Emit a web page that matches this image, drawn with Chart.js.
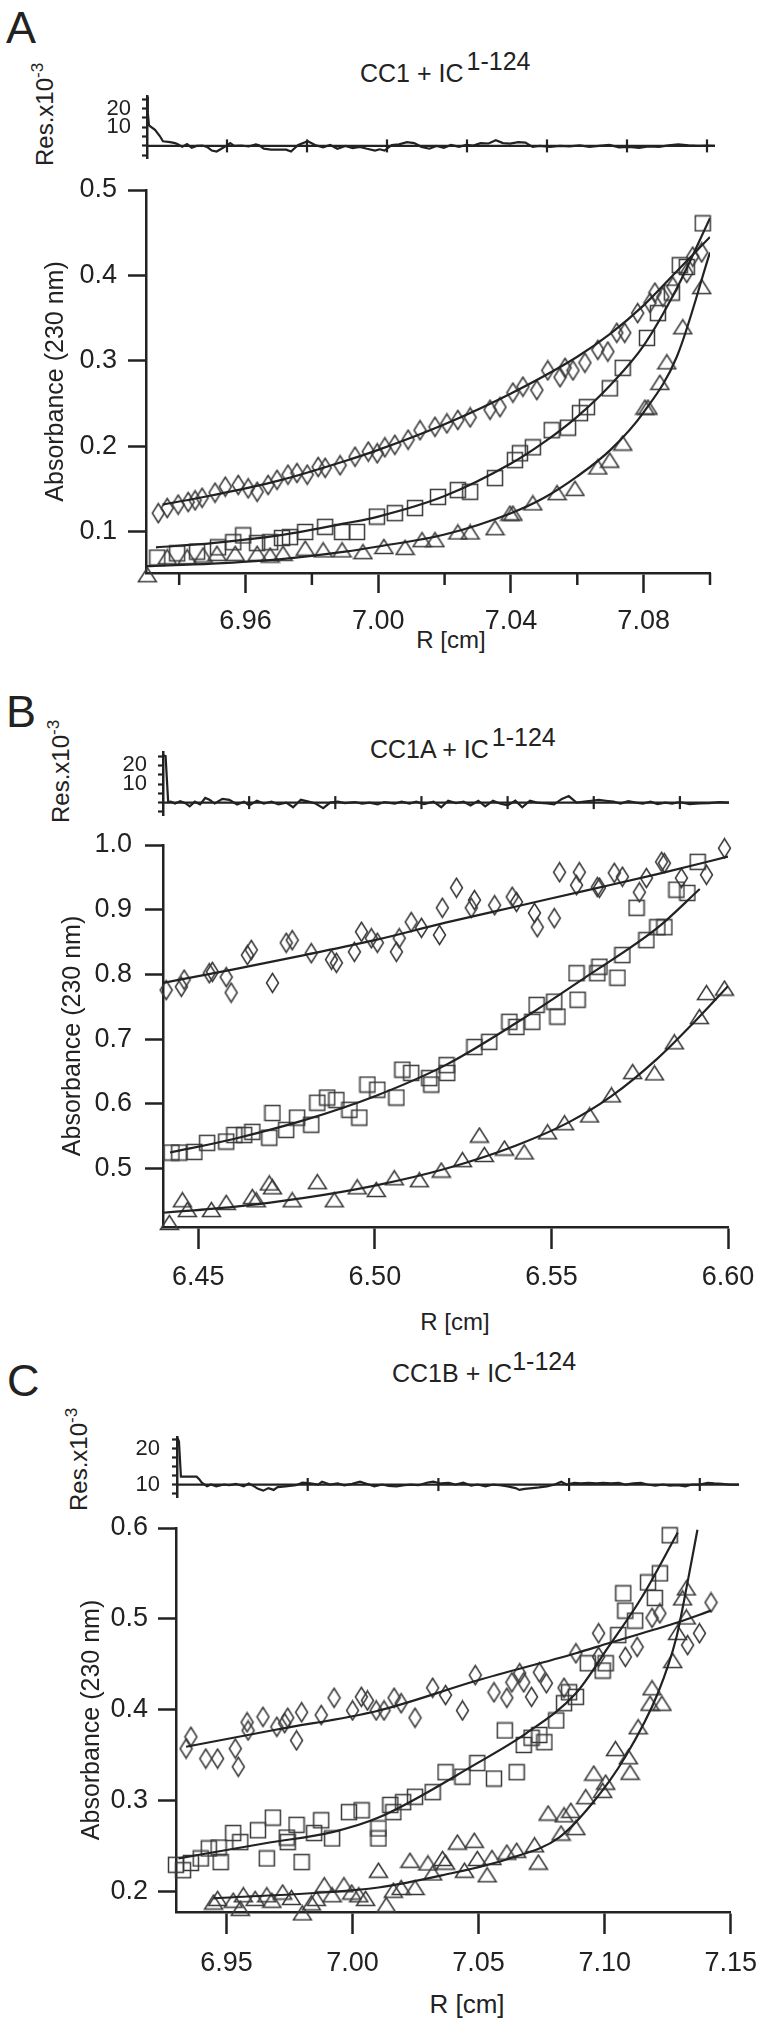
<!DOCTYPE html>
<html>
<head>
<meta charset="utf-8">
<script src="https://cdn.jsdelivr.net/npm/chart.js@4.4.1/dist/chart.umd.min.js"></script>
<style>
body { margin: 0; background: #fff; }
#fig { position: relative; width: 770px; height: 2020px; overflow: hidden; color: #222;
       font-family: "Liberation Sans", Arial, sans-serif; }
canvas { position: absolute; left: 0; }
.t { position: absolute; white-space: nowrap; line-height: 1; }
.rot { transform-origin: 0 0; transform: rotate(-90deg); }
.sup { position: relative; }
.c { transform: translateX(-50%); }
</style>
</head>
<body>
<div id="fig">
  <div class="t" style="left:6px;top:5px;font-size:45px">A</div>
  <div class="t" style="left:360px;top:61px;font-size:25px">CC1 + IC<span class="sup" style="top:-12px;margin-left:3px">1-124</span></div>
  <div class="t rot" style="left:33px;top:166px;font-size:24px">Res.x10<span class="sup" style="top:-10px;font-size:17px">-3</span></div>
  <div class="t c" style="left:451px;top:628px;font-size:24px">R [cm]</div>

  <div class="t" style="left:6px;top:689px;font-size:45px">B</div>
  <div class="t" style="left:370px;top:737px;font-size:25px">CC1A + IC<span class="sup" style="top:-12px;margin-left:3px">1-124</span></div>
  <div class="t rot" style="left:49px;top:823px;font-size:24px">Res.x10<span class="sup" style="top:-10px;font-size:17px">-3</span></div>
  <div class="t c" style="left:455px;top:1310px;font-size:24px">R [cm]</div>

  <div class="t" style="left:7px;top:1358px;font-size:45px">C</div>
  <div class="t" style="left:392px;top:1361px;font-size:25px">CC1B + IC<span class="sup" style="top:-12px">1-124</span></div>
  <div class="t rot" style="left:67px;top:1511px;font-size:24px">Res.x10<span class="sup" style="top:-10px;font-size:17px">-3</span></div>
  <div class="t c" style="left:467px;top:1991px;font-size:26px">R [cm]</div>

  <canvas id="resA" width="770" height="111" style="top:72px"></canvas>
  <canvas id="mainA" width="770" height="530" style="top:150px"></canvas>
  <canvas id="resB" width="770" height="112" style="top:728px"></canvas>
  <canvas id="mainB" width="770" height="520" style="top:800px"></canvas>
  <canvas id="resC" width="770" height="111" style="top:1412px"></canvas>
  <canvas id="mainC" width="770" height="510" style="top:1490px"></canvas>
</div>
<script>
// ---------- panel A : CC1 + IC(1-124) ----------
const A_xTicks = [6.96, 7.00, 7.04, 7.08];
const A_xMinor = [6.94, 6.98, 7.02, 7.06, 7.10];
const A_yTicks = [0.1, 0.2, 0.3, 0.4, 0.5];
const A_diamonds = [[6.9337,0.122],[6.9364,0.128],[6.9397,0.132],[6.9427,0.135],[6.9448,0.137],[6.9469,0.140],
  [6.9508,0.146],[6.9539,0.153],[6.9578,0.155],[6.9608,0.151],[6.9635,0.147],[6.9668,0.155],[6.9695,0.161],
  [6.9728,0.167],[6.9755,0.169],[6.9786,0.167],[6.9819,0.176],[6.984,0.175],[6.9885,0.178],[6.993,0.188],
  [6.997,0.194],[6.9997,0.192],[7.002,0.199],[7.005,0.202],[7.009,0.208],[7.0126,0.219],[7.0171,0.223],
  [7.0207,0.227],[7.024,0.231],[7.0277,0.234],[7.0337,0.243],[7.0367,0.246],[7.0406,0.263],[7.0436,0.270],
  [7.0478,0.266],[7.0511,0.289],[7.0548,0.281],[7.0563,0.292],[7.0587,0.289],[7.0623,0.298],[7.0662,0.313],
  [7.0692,0.311],[7.0719,0.333],[7.0743,0.333],[7.0782,0.356],[7.0819,0.368],[7.0834,0.380],[7.0858,0.375],
  [7.0888,0.387],[7.093,0.403],[7.0948,0.422],[7.0975,0.427]];
const A_squares = [[6.9334,0.070],[6.9394,0.075],[6.9454,0.077],[6.9517,0.082],[6.9563,0.088],[6.9593,0.096],
  [6.9635,0.087],[6.9674,0.088],[6.971,0.093],[6.9734,0.094],[6.978,0.100],[6.984,0.106],[6.9891,0.100],
  [6.9936,0.100],[6.9996,0.118],[7.005,0.122],[7.0111,0.128],[7.018,0.141],[7.024,0.149],[7.0277,0.147],
  [7.0352,0.163],[7.0412,0.184],[7.0427,0.192],[7.0466,0.199],[7.0523,0.219],[7.0572,0.222],[7.0608,0.239],
  [7.0629,0.246],[7.0698,0.268],[7.0737,0.292],[7.081,0.327],[7.0843,0.356],[7.0885,0.380],[7.0909,0.412],
  [7.093,0.410],[7.0978,0.461]];
const A_triangles = [[6.9304,0.050],[6.9364,0.071],[6.9424,0.071],[6.9472,0.073],[6.9514,0.075],[6.9569,0.075],
  [6.9635,0.075],[6.9674,0.073],[6.9713,0.075],[6.978,0.081],[6.9834,0.079],[6.9891,0.079],[6.9954,0.077],
  [7.0017,0.083],[7.0081,0.082],[7.0132,0.091],[7.0171,0.091],[7.024,0.100],[7.0277,0.100],[7.0352,0.105],
  [7.0397,0.122],[7.0406,0.122],[7.0466,0.134],[7.0539,0.146],[7.0593,0.151],[7.0662,0.176],[7.0698,0.184],
  [7.0737,0.204],[7.0804,0.246],[7.0813,0.246],[7.0849,0.275],[7.087,0.299],[7.0918,0.340],[7.0975,0.387]];
const A_fitDiamonds = [[6.935,0.132],[6.95,0.143],[6.97,0.160],[6.99,0.183],[7.00,0.196],[7.02,0.226],
  [7.04,0.262],[7.06,0.305],[7.07,0.332],[7.08,0.365],[7.09,0.405],[7.10,0.445]];
const A_fitSquares = [[6.933,0.082],[6.95,0.087],[6.97,0.096],[6.99,0.110],[7.00,0.118],[7.02,0.142],
  [7.04,0.180],[7.05,0.205],[7.06,0.235],[7.07,0.272],[7.08,0.318],[7.09,0.385],[7.10,0.467]];
const A_fitTriangles = [[6.93,0.060],[6.95,0.063],[6.97,0.068],[6.99,0.077],[7.00,0.083],[7.02,0.097],
  [7.04,0.122],[7.05,0.140],[7.06,0.165],[7.07,0.196],[7.08,0.240],[7.09,0.305],[7.10,0.427]];
const A_res = [[0,26.4],[0.1,18],[0.25,11],[1.0,8.6],[1.6,5.3],[2.0,2.5],[2.9,2],[3.5,1.5],[3.8,1.0],[4.4,-0.5],
  [5.0,1],[5.6,-1],[6.2,0],[6.9,0.2],[7.5,-0.5],[8.1,-2.5],[8.7,-3],[9.3,-1.5],[9.9,0],[10.4,1.5],[10.9,0],
  [11.8,0.2],[12.7,-0.3],[13.6,0.8],[14.0,0.3],[14.6,-1.5],[15.5,-2],[16.4,-2],[17.4,-2],[18.0,-3],[18.9,0.5],
  [20.1,2.5],[21.0,0.5],[22.0,-0.8],[22.9,0.5],[23.8,-1.5],[24.8,0],[25.7,-1.2],[26.6,-0.5],[27.5,-1.5],
  [28.5,-2.5],[29.1,-1.8],[29.7,-2.5],[30.6,0.5],[31.5,0.8],[32.5,2],[33.4,1.5],[34.3,-0.5],[35.3,-1.5],
  [36.2,0],[37.1,-1],[38.0,0.5],[39.0,-0.5],[39.9,0.5],[40.8,0.2],[41.7,1.5],[42.7,1.3],[43.6,3],[44.5,1.5],
  [45.4,1.2],[46.4,2],[47.3,1.8],[48.2,-0.5],[49.1,0],[50.4,-0.5],[51.6,0],[52.8,-0.3],[54.1,0.3],[55.3,-0.5],
  [56.5,0],[57.8,0.5],[59.0,-0.8],[60.3,-0.5],[61.5,-1],[62.7,-0.3],[64.0,-0.5],[65.2,0.3],[66.4,0.8],
  [67.7,0.3],[68.9,0],[70.1,0.2],[71.0,0]];
const A_resXTicks = [10, 20, 30, 40, 50, 60, 70];

// ---------- panel B : CC1A + IC(1-124) ----------
const B_xTicks = [6.45, 6.50, 6.55, 6.60];
const B_yTicks = [0.5, 0.6, 0.7, 0.8, 0.9, 1.0];
const B_diamonds = [[6.4409,0.776],[6.4452,0.781],[6.446,0.792],[6.4531,0.802],[6.454,0.804],[6.4579,0.796],
  [6.4593,0.772],[6.4639,0.830],[6.465,0.838],[6.471,0.787],[6.4749,0.849],[6.4766,0.853],[6.482,0.833],
  [6.4877,0.823],[6.4891,0.818],[6.4942,0.835],[6.4962,0.866],[6.499,0.856],[6.5007,0.849],[6.5061,0.835],
  [6.5069,0.856],[6.5103,0.881],[6.5132,0.872],[6.5183,0.861],[6.5191,0.903],[6.5231,0.934],[6.5273,0.903],
  [6.5282,0.915],[6.5339,0.907],[6.5389,0.920],[6.5401,0.912],[6.5452,0.895],[6.546,0.873],[6.5508,0.887],
  [6.5523,0.958],[6.5571,0.938],[6.5579,0.958],[6.563,0.935],[6.5636,0.934],[6.5678,0.957],[6.5701,0.951],
  [6.5749,0.927],[6.5769,0.949],[6.5812,0.974],[6.582,0.972],[6.5868,0.949],[6.5939,0.954],[6.599,0.995]];
const B_squares = [[6.4424,0.525],[6.4446,0.525],[6.4489,0.526],[6.4525,0.540],[6.4579,0.542],[6.4602,0.552],
  [6.463,0.552],[6.4653,0.557],[6.4701,0.548],[6.471,0.586],[6.4749,0.560],[6.478,0.579],[6.482,0.568],
  [6.4837,0.602],[6.4865,0.610],[6.4891,0.606],[6.4928,0.591],[6.4956,0.579],[6.4979,0.630],[6.5007,0.622],
  [6.5061,0.610],[6.5078,0.653],[6.5103,0.648],[6.5154,0.640],[6.516,0.630],[6.5203,0.660],[6.5205,0.648],
  [6.5282,0.688],[6.5324,0.696],[6.5381,0.727],[6.5401,0.719],[6.5446,0.727],[6.5458,0.753],[6.5508,0.758],
  [6.5517,0.735],[6.5574,0.761],[6.5571,0.802],[6.563,0.802],[6.5636,0.812],[6.5687,0.795],[6.5701,0.830],
  [6.5741,0.903],[6.5769,0.853],[6.58,0.873],[6.582,0.873],[6.5854,0.931],[6.5885,0.926],[6.5914,0.974]];
const B_triangles = [[6.4418,0.417],[6.4455,0.452],[6.4469,0.437],[6.4537,0.437],[6.4579,0.448],[6.4653,0.457],
  [6.4664,0.452],[6.4701,0.478],[6.471,0.472],[6.4766,0.452],[6.4837,0.480],[6.4885,0.452],[6.495,0.472],
  [6.5004,0.468],[6.5055,0.486],[6.5126,0.483],[6.5188,0.498],[6.5248,0.514],[6.5296,0.552],[6.531,0.522],
  [6.5367,0.532],[6.5423,0.526],[6.5489,0.557],[6.5537,0.571],[6.5608,0.583],[6.567,0.614],[6.573,0.650],
  [6.5792,0.648],[6.5848,0.696],[6.5919,0.735],[6.5939,0.772],[6.599,0.779]];
const B_fitDiamonds = [[6.44,0.787],[6.46,0.808],[6.48,0.830],[6.50,0.853],[6.52,0.880],[6.54,0.905],
  [6.56,0.930],[6.58,0.955],[6.60,0.982]];
const B_fitSquares = [[6.442,0.525],[6.46,0.546],[6.48,0.575],[6.50,0.612],[6.52,0.660],[6.54,0.725],
  [6.56,0.797],[6.58,0.872],[6.592,0.932]];
const B_fitTriangles = [[6.44,0.432],[6.46,0.441],[6.48,0.455],[6.50,0.474],[6.52,0.500],[6.54,0.536],
  [6.555,0.572],[6.567,0.612],[6.58,0.670],[6.59,0.724],[6.60,0.782]];
const B_res = [[0,25.5],[0.3,25],[0.6,0.3],[0.9,0.5],[1.4,-0.5],[2.0,0.8],[2.6,-0.3],[3.1,-2],[3.7,0.5],[4.3,-1],
  [4.9,2.5],[5.4,1.5],[6.0,-0.5],[6.9,2],[7.7,1.5],[8.6,-1],[9.4,0.5],[10.0,-1.5],[10.9,1],[11.7,-0.5],
  [12.6,0.5],[13.4,-1],[14.3,0],[15.1,-2.5],[16.0,1.5],[16.9,0.5],[17.7,-0.5],[18.6,-3],[19.4,0],[20.3,0.5],
  [21.1,-0.3],[22.3,0.3],[23.1,-0.5],[24.0,0],[24.9,-1],[25.7,0.3],[26.9,-0.5],[27.7,0.5],[28.6,-0.5],
  [29.4,0.5],[30.3,-0.8],[31.4,0.5],[32.3,-2.5],[33.1,1],[34.0,-0.3],[34.9,0.5],[35.7,-1.5],[36.6,1],
  [37.4,-2],[38.3,1],[39.1,-0.5],[40.0,-1.5],[40.9,1],[41.7,-2.5],[42.6,1],[43.4,0],[44.6,-0.5],[45.4,-1],
  [46.3,2],[47.1,3.5],[48.0,0],[48.9,0.5],[49.7,1],[50.6,1.5],[51.4,1],[52.3,0.5],[53.1,-0.5],[54.0,0.8],
  [54.9,0],[55.7,-0.5],[56.6,0.5],[57.4,-0.8],[58.3,0],[59.1,-0.5],[60.0,0.3],[61.1,-0.8],[62.3,-0.5],
  [63.4,-0.3],[64.6,0.3],[65.7,0]];
const B_resXTicks = [10, 20, 30, 40, 50, 60];

// ---------- panel C : CC1B + IC(1-124) ----------
const C_xTicks = [6.95, 7.00, 7.05, 7.10, 7.15];
const C_yTicks = [0.2, 0.3, 0.4, 0.5, 0.6];
const C_diamonds = [[6.934,0.357],[6.9359,0.370],[6.9418,0.346],[6.9465,0.346],[6.9535,0.357],[6.9547,0.337],
  [6.9582,0.386],[6.9586,0.377],[6.9645,0.392],[6.97,0.381],[6.9731,0.385],[6.9743,0.391],[6.9778,0.366],
  [6.9798,0.397],[6.9876,0.394],[6.9927,0.413],[7.0,0.399],[7.0035,0.414],[7.0059,0.410],[7.0094,0.399],
  [7.0125,0.399],[7.0165,0.413],[7.0193,0.407],[7.0248,0.391],[7.0318,0.424],[7.0369,0.416],[7.0436,0.399],
  [7.0487,0.438],[7.0561,0.419],[7.0612,0.413],[7.0632,0.430],[7.0663,0.440],[7.0679,0.430],[7.071,0.414],
  [7.0741,0.441],[7.0769,0.429],[7.0839,0.424],[7.0886,0.462],[7.0976,0.484],[7.0976,0.458],[7.1082,0.458],
  [7.1129,0.469],[7.1188,0.501],[7.1219,0.506],[7.1329,0.471],[7.1376,0.484],[7.1422,0.518]];
const C_squares = [[6.93,0.229],[6.9328,0.223],[6.9359,0.231],[6.9398,0.236],[6.943,0.247],[6.9469,0.248],
  [6.9477,0.232],[6.9527,0.264],[6.9555,0.254],[6.9625,0.267],[6.966,0.236],[6.9684,0.281],[6.9739,0.259],
  [6.9743,0.254],[6.9778,0.273],[6.9798,0.232],[6.9848,0.264],[6.9876,0.278],[6.9919,0.258],[6.9986,0.287],
  [7.0036,0.289],[7.0103,0.258],[7.0103,0.269],[7.015,0.295],[7.0162,0.287],[7.0201,0.298],[7.0248,0.304],
  [7.0318,0.309],[7.0369,0.331],[7.0436,0.326],[7.0495,0.341],[7.0561,0.324],[7.0604,0.377],[7.0651,0.331],
  [7.0679,0.361],[7.071,0.369],[7.0741,0.372],[7.0761,0.364],[7.0808,0.388],[7.0839,0.407],[7.0859,0.419],
  [7.0886,0.414],[7.0933,0.451],[7.0992,0.443],[7.1004,0.451],[7.1054,0.482],[7.1082,0.509],[7.1121,0.498],
  [7.1074,0.528],[7.1172,0.540],[7.1199,0.523],[7.1219,0.550],[7.1258,0.592]];
const C_triangles = [[6.9449,0.188],[6.9465,0.192],[6.9527,0.190],[6.9555,0.181],[6.9567,0.196],[6.9614,0.192],
  [6.966,0.196],[6.968,0.190],[6.9723,0.199],[6.9758,0.193],[6.9801,0.176],[6.9837,0.187],[6.9856,0.192],
  [6.9888,0.207],[6.9919,0.196],[6.9966,0.207],[6.9997,0.199],[7.0025,0.196],[7.0052,0.192],[7.0103,0.223],
  [7.0134,0.185],[7.0162,0.201],[7.0193,0.204],[7.0248,0.204],[7.0228,0.234],[7.0299,0.231],[7.0318,0.220],
  [7.0357,0.236],[7.0369,0.232],[7.0416,0.254],[7.0444,0.223],[7.0483,0.256],[7.0495,0.236],[7.0534,0.218],
  [7.0553,0.237],[7.0612,0.243],[7.0651,0.245],[7.0722,0.251],[7.0737,0.232],[7.0776,0.286],[7.0827,0.264],
  [7.0839,0.284],[7.0866,0.289],[7.0886,0.270],[7.0925,0.304],[7.0957,0.330],[7.1004,0.320],[7.0992,0.311],
  [7.1043,0.357],[7.1094,0.348],[7.1101,0.331],[7.1133,0.381],[7.118,0.407],[7.1188,0.424],[7.1227,0.407],
  [7.127,0.454],[7.1289,0.485],[7.1324,0.502],[7.1324,0.534],[7.1309,0.523]];
const C_fitDiamonds = [[6.934,0.359],[6.97,0.378],[7.0105,0.399],[7.0494,0.432],[7.0886,0.462],[7.1015,0.473],
  [7.1278,0.495],[7.1422,0.509]];
const C_fitSquares = [[6.931,0.236],[6.966,0.253],[6.992,0.265],[7.0103,0.281],[7.0495,0.341],[7.069,0.374],
  [7.0886,0.418],[7.1015,0.469],[7.1148,0.524],[7.129,0.595]];
const C_fitTriangles = [[6.9449,0.192],[7.0103,0.204],[7.0365,0.218],[7.0623,0.236],[7.0819,0.259],
  [7.0952,0.297],[7.1082,0.348],[7.1211,0.418],[7.1285,0.480],[7.1328,0.539],[7.1368,0.598]];
const C_res = [[0,23.3],[0.15,22],[0.3,12.2],[1.5,12.2],[1.7,11.5],[1.9,10.5],[2.3,9.5],[2.6,10],[3.0,9.5],
  [3.6,10],[4.0,9.8],[4.5,10.2],[5.1,9.5],[5.5,10.3],[5.9,9.5],[6.2,8.8],[6.6,8.3],[7.0,9],[7.4,8.5],[7.7,9.3],
  [8.3,9.5],[9.1,9.8],[9.6,10.5],[10.2,10.3],[10.8,10],[11.1,10.8],[11.7,10],[12.3,10.3],[12.8,9.8],[13.4,10.2],
  [14.0,10.8],[14.5,10.2],[15.1,9.5],[15.7,10],[16.2,9.6],[16.8,9.5],[17.4,9.8],[17.9,10],[18.5,9.8],[19.1,10.5],
  [19.6,10.8],[20.2,10.3],[20.8,10.5],[21.3,10],[21.9,10.5],[22.5,9.7],[23.0,10],[23.6,9.5],[24.2,10],[24.7,9.8],
  [25.3,9.5],[25.9,9],[26.2,8.5],[26.6,8.8],[27.2,9],[27.7,9.2],[28.3,9.5],[28.9,10],[29.4,10.8],[29.8,10],
  [30.4,10.5],[30.9,10.3],[31.5,10.5],[32.1,10.3],[32.6,10.5],[33.2,10.3],[33.8,10.5],[34.3,10],[34.9,10.3],
  [35.5,10.5],[36.0,10],[36.6,9.7],[37.2,10],[37.7,9.7],[38.3,9.8],[38.9,9.5],[39.4,10],[40.0,10],[40.6,10.5],
  [41.1,10.3],[41.7,10.2],[42.3,10],[43.0,10]];
const C_resXTicks = [10, 20, 30, 40];

const ink = '#222';
const markInk = '#3a3a3a';
const tickFont = { family: '"Liberation Sans", Arial, sans-serif', size: 27 };
const resFont = { family: '"Liberation Sans", Arial, sans-serif', size: 22 };

function marker(shape) {
  const dims = { diamond: [15, 22], square: [18, 18], triangle: [21, 17] }[shape];
  const c = document.createElement('canvas');
  c.width = dims[0]; c.height = dims[1];
  const w = dims[0], h = dims[1];
  const g = c.getContext('2d');
  g.strokeStyle = markInk;
  g.lineWidth = 1.5;
  g.beginPath();
  if (shape === 'diamond') {
    g.moveTo(w / 2, 1.5); g.lineTo(w - 1.5, h / 2); g.lineTo(w / 2, h - 1.5); g.lineTo(1.5, h / 2);
    g.closePath();
  } else if (shape === 'square') {
    g.rect(1.5, 1.5, w - 3, h - 3);
  } else {
    g.moveTo(w / 2, 1.5); g.lineTo(w - 1.5, h - 1.5); g.lineTo(1.5, h - 1.5);
    g.closePath();
  }
  g.stroke();
  return c;
}
const diamondImg = marker('diamond');
const squareImg = marker('square');
const triangleImg = marker('triangle');

// minor ticks on the main x axes, zero line with crossing ticks on the residual plots
const axisExtras = {
  id: 'axisExtras',
  afterDraw(chart, args, o) {
    const { ctx, chartArea: a, scales: { x, y } } = chart;
    ctx.save();
    ctx.strokeStyle = ink;
    ctx.lineWidth = o.width || 2.5;
    (o.minorX || []).forEach(v => {
      const px = x.getPixelForValue(v);
      ctx.beginPath(); ctx.moveTo(px, a.bottom); ctx.lineTo(px, a.bottom + o.minorLen); ctx.stroke();
    });
    if (o.ref !== undefined) {
      const py = y.getPixelForValue(o.ref);
      ctx.beginPath(); ctx.moveTo(a.left, py); ctx.lineTo(a.right, py); ctx.stroke();
      o.crossX.forEach(v => {
        const px = x.getPixelForValue(v);
        ctx.beginPath(); ctx.moveTo(px, py - o.crossLen); ctx.lineTo(px, py + o.crossLen); ctx.stroke();
      });
    }
    ctx.restore();
  }
};

function fitSet(data) {
  return { data, showLine: true, borderColor: ink, borderWidth: 2.2, pointRadius: 0,
           cubicInterpolationMode: 'monotone', order: 0 };
}
function markSet(data, img) {
  return { data, showLine: false, pointStyle: img, pointRadius: 8, clip: false, order: 1 };
}

function mainChart(id, p) {
  return new Chart(document.getElementById(id), {
    type: 'line',
    data: {
      datasets: [
        fitSet(p.fits[0]), fitSet(p.fits[1]), fitSet(p.fits[2]),
        markSet(p.diamonds, diamondImg), markSet(p.squares, squareImg), markSet(p.triangles, triangleImg)
      ]
    },
    options: {
      responsive: false, animation: false, events: [],
      layout: { padding: { left: 0, top: p.padTop, right: p.padRight, bottom: 0 } },
      plugins: { legend: { display: false }, tooltip: { enabled: false },
                 axisExtras: { minorX: p.minorX, minorLen: 12 } },
      scales: {
        x: {
          type: 'linear', min: p.xMin, max: p.xMax,
          afterBuildTicks: s => { s.ticks = p.xTicks.map(v => ({ value: v })); },
          afterFit: s => { s.height = p.xAxisH; },
          ticks: { callback: v => v.toFixed(2), font: tickFont, color: ink, padding: p.xPad,
                   maxRotation: 0, autoSkip: false },
          grid: { drawOnChartArea: false, drawTicks: true, tickLength: p.xTickLen, tickWidth: 2.5, tickColor: ink },
          border: { color: ink, width: 2.5 }
        },
        y: {
          type: 'linear', min: p.yMin, max: p.yMax,
          afterBuildTicks: s => { s.ticks = p.yTicks.map(v => ({ value: v })); },
          afterFit: s => { s.width = p.yAxisW; },
          ticks: { callback: v => v.toFixed(1), font: tickFont, color: ink, padding: p.yPad, autoSkip: false },
          grid: { drawOnChartArea: false, drawTicks: true, tickLength: 18, tickWidth: 2.5, tickColor: ink },
          border: { color: ink, width: 2.5 },
          title: { display: true, text: 'Absorbance (230 nm)', color: ink,
                   font: { family: '"Liberation Sans", Arial, sans-serif', size: 25 },
                   padding: { top: p.titlePad, bottom: 0 } }
        }
      }
    },
    plugins: [axisExtras]
  });
}

function resChart(id, p) {
  return new Chart(document.getElementById(id), {
    type: 'line',
    data: { datasets: [{ data: p.data, borderColor: ink, borderWidth: 2.2, pointRadius: 0, tension: 0, clip: false }] },
    options: {
      responsive: false, animation: false, events: [],
      layout: { padding: { left: 0, top: 20, right: p.padRight, bottom: 20 } },
      plugins: { legend: { display: false }, tooltip: { enabled: false },
                 axisExtras: { ref: p.ref, crossX: p.crossX, crossLen: 6.5, width: 2.2 } },
      scales: {
        x: { type: 'linear', display: false, min: p.xMin, max: p.xMax },
        y: {
          type: 'linear', min: p.yMin, max: p.yMax,
          afterBuildTicks: s => { s.ticks = p.yTicks.map(v => ({ value: v })); },
          afterFit: s => { s.width = p.yAxisW; },
          ticks: { callback: v => (p.yLabels.includes(v) ? String(v) : ''), font: resFont, color: ink,
                   padding: p.yPad, autoSkip: false },
          grid: { drawOnChartArea: false, drawTicks: true, tickLength: 5, tickWidth: 2.2, tickColor: ink },
          border: { color: ink, width: 2.5 }
        }
      }
    },
    plugins: [axisExtras]
  });
}

resChart('resA', { data: A_res, xMin: 0, xMax: 71, crossX: A_resXTicks, ref: 0,
  yMin: -6.9, yMax: 26.6, yTicks: [-5, 0, 5, 10, 15, 20, 25], yLabels: [10, 20],
  yAxisW: 147, padRight: 55, yPad: 11 });
mainChart('mainA', { fits: [A_fitDiamonds, A_fitSquares, A_fitTriangles],
  diamonds: A_diamonds, squares: A_squares, triangles: A_triangles,
  xMin: 6.93, xMax: 7.10, yMin: 0.052, yMax: 0.5, xTicks: A_xTicks, yTicks: A_yTicks, minorX: A_xMinor,
  padTop: 40, padRight: 60, yAxisW: 146, xAxisH: 107, xTickLen: 20, xPad: 12, yPad: 11, titlePad: 41 });

resChart('resB', { data: B_res, xMin: 0, xMax: 65.7, crossX: B_resXTicks, ref: 0,
  yMin: -7.1, yMax: 27.1, yTicks: [-5, 0, 5, 10, 15, 20, 25], yLabels: [10, 20],
  yAxisW: 163, padRight: 41, yPad: 11 });
mainChart('mainB', { fits: [B_fitDiamonds, B_fitSquares, B_fitTriangles],
  diamonds: B_diamonds, squares: B_squares, triangles: B_triangles,
  xMin: 6.44, xMax: 6.60, yMin: 0.41, yMax: 1.0, xTicks: B_xTicks, yTicks: B_yTicks, minorX: [],
  padTop: 45, padRight: 42, yAxisW: 163, xAxisH: 93, xTickLen: 22, xPad: 12, yPad: 13, titlePad: 58 });

resChart('resC', { data: C_res, xMin: 0, xMax: 43, crossX: C_resXTicks, ref: 10,
  yMin: 6.3, yMax: 23.2, yTicks: [7.5, 10, 12.5, 15, 17.5, 20, 22.5], yLabels: [10, 20],
  yAxisW: 177, padRight: 31, yPad: 12 });
mainChart('mainC', { fits: [C_fitDiamonds, C_fitSquares, C_fitTriangles],
  diamonds: C_diamonds, squares: C_squares, triangles: C_triangles,
  xMin: 6.93, xMax: 7.15, yMin: 0.177, yMax: 0.6, xTicks: C_xTicks, yTicks: C_yTicks, minorX: [],
  padTop: 38, padRight: 33, yAxisW: 176, xAxisH: 88, xTickLen: 22, xPad: 13, yPad: 10, titlePad: 77 });
</script>
</body>
</html>
